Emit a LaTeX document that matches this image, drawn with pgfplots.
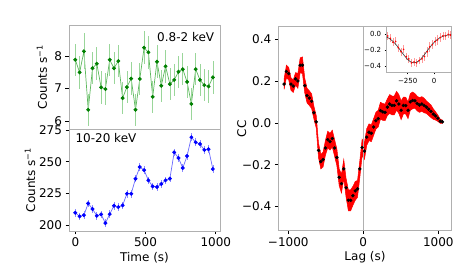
\documentclass[border=0pt]{standalone}
\usepackage{pgfplots}
\pgfplotsset{compat=1.18}
\usepackage{pgfplotstable}
\usepgfplotslibrary{fillbetween}
\usepackage{fontspec}
\setmainfont{DejaVu Sans}

\definecolor{gdot}{HTML}{008000}
\definecolor{gline}{HTML}{5DB85D}
\definecolor{gerr}{HTML}{9AD69A}
\definecolor{bdot}{HTML}{0000FF}
\definecolor{bline}{HTML}{6A6AFF}
\definecolor{berr}{HTML}{8C8CFF}
\definecolor{framegray}{HTML}{B0B0B0}
\definecolor{pinkerr}{HTML}{FF9A9A}

\pgfplotstableread{
t v e
0 7.88 0.50
30.6 7.49 0.50
61.2 8.14 0.55
91.8 6.34 0.50
122.4 7.62 0.50
153 7.76 0.50
183.6 7.03 0.50
214.2 6.98 0.50
244.8 7.88 0.50
275.4 7.62 0.50
306 7.84 0.50
336.6 6.70 0.50
367.2 7.04 0.50
397.8 7.30 0.50
428.4 6.34 0.50
459 7.29 0.50
489.6 8.25 0.50
520.2 8.11 0.50
550.8 6.74 0.50
581.4 7.82 0.50
612 7.08 0.50
642.6 7.68 0.50
673.2 7.13 0.50
703.8 7.26 0.50
734.4 7.51 0.50
765 7.59 0.50
795.6 7.20 0.50
826.2 6.52 0.50
856.8 7.59 0.50
887.4 7.26 0.50
918 7.10 0.50
948.6 7.06 0.50
979.2 7.34 0.50
}\soft

\pgfplotstableread{
t v e
0 209.7 3
30.6 206.8 3
61.2 207.8 3
91.8 217.1 3
122.4 212.6 3
153 207.3 3
183.6 208.4 3
214.2 201.5 3
244.8 208.6 3
275.4 215.2 3
306 214.2 3
336.6 215.5 3
367.2 224.7 3
397.8 224.7 3
428.4 236.6 3
459 245.8 3
489.6 243.3 3
520.2 235.3 3
550.8 230.5 3
581.4 230.0 3
612 232.4 3
642.6 235.3 3
673.2 236.6 3
703.8 257.4 3
734.4 252.9 3
765 245.0 3
795.6 254.5 3
826.2 269.3 3
856.8 265.3 3
887.4 264.0 3
918 259.3 3
948.6 259.8 3
979.2 244.2 3
}\hard

\pgfplotstableread{
l c e
-1055.7 0.185 0.025
-1025.1 0.245 0.030
-994.5 0.235 0.030
-963.9 0.185 0.030
-933.3 0.175 0.030
-902.7 0.210 0.030
-872.1 0.200 0.035
-841.5 0.275 0.035
-810.9 0.275 0.040
-780.3 0.178 0.035
-749.7 0.130 0.035
-719.1 0.118 0.035
-688.5 0.103 0.035
-657.9 0.048 0.030
-627.3 0.005 0.030
-596.7 -0.132 0.035
-566.1 -0.185 0.035
-535.5 -0.175 0.035
-504.9 -0.120 0.035
-474.3 -0.080 0.040
-443.7 -0.090 0.040
-413.1 -0.075 0.040
-382.5 -0.120 0.040
-351.9 -0.165 0.040
-321.3 -0.260 0.040
-290.7 -0.290 0.045
-260.1 -0.220 0.045
-229.5 -0.310 0.045
-198.9 -0.370 0.050
-168.3 -0.370 0.050
-137.7 -0.348 0.045
-107.1 -0.325 0.045
-76.5 -0.315 0.040
-45.9 -0.220 0.040
-15.3 -0.118 0.040
15.3 -0.135 0.040
45.9 -0.068 0.040
76.5 -0.045 0.040
107.1 -0.050 0.040
137.7 -0.020 0.040
168.3 0.010 0.040
198.9 0.020 0.040
229.5 0.058 0.040
260.1 0.052 0.040
290.7 0.050 0.040
321.3 0.075 0.040
351.9 0.090 0.045
382.5 0.083 0.045
413.1 0.083 0.045
443.7 0.105 0.045
474.3 0.090 0.045
504.9 0.060 0.045
535.5 0.083 0.040
566.1 0.082 0.040
596.7 0.060 0.040
627.3 0.100 0.040
657.9 0.107 0.040
688.5 0.105 0.035
719.1 0.092 0.035
749.7 0.085 0.035
780.3 0.090 0.035
810.9 0.083 0.035
841.5 0.075 0.030
872.1 0.065 0.030
902.7 0.055 0.030
933.3 0.042 0.025
963.9 0.033 0.020
994.5 0.022 0.015
1025.1 0.008 0.010
1055.7 0.005 0.008
}\ccf

\pgfplotstableread{
l c e
-440 -0.02 0.05
-415 -0.05 0.05
-390 -0.10 0.05
-365 -0.09 0.05
-340 -0.17 0.05
-315 -0.22 0.05
-290 -0.19 0.05
-265 -0.28 0.05
-240 -0.31 0.05
-215 -0.36 0.05
-190 -0.35 0.05
-165 -0.36 0.05
-140 -0.33 0.05
-115 -0.31 0.05
-90 -0.28 0.06
-65 -0.22 0.06
-40 -0.16 0.06
-15 -0.13 0.06
10 -0.09 0.06
35 -0.07 0.06
60 -0.04 0.06
85 -0.02 0.05
110 -0.02 0.05
135 0.00 0.05
155 -0.01 0.05
}\insetdata

\pgfplotstableread{
l c
-450 -0.034
-425 -0.053
-400 -0.078
-375 -0.110
-350 -0.148
-325 -0.191
-300 -0.237
-275 -0.280
-250 -0.318
-225 -0.345
-200 -0.359
-175 -0.357
-150 -0.341
-125 -0.311
-100 -0.272
-75 -0.227
-50 -0.182
-25 -0.140
0 -0.103
25 -0.072
50 -0.049
75 -0.031
100 -0.019
125 -0.011
150 -0.006
162 -0.005
}\fitcurve

\pgfplotsset{
  myax/.style={
    scale only axis,
    anchor=south west,
    axis line style={framegray, line width=0.8pt},
    tick style={black, line width=0.6pt},
    tick align=outside,
    major tick length=3.5pt,
    xtick pos=bottom, ytick pos=left,
    tick label style={font=\fontsize{12}{14}\selectfont},
    label style={font=\fontsize{12}{14}\selectfont},
    /pgf/number format/assume math mode=true,
    /pgf/number format/1000 sep={},
  },
}

\begin{document}
\begin{tikzpicture}

% top-left panel
\begin{axis}[myax, at={(69pt,143pt)}, width=151pt, height=104pt,
  xmin=-45, xmax=1030, ymin=5.75, ymax=8.95,
  xtick=\empty, ytick={6,7,8},
  ylabel={Counts s\textsuperscript{−1}},
  ylabel style={at={(axis description cs:-0.179,0.5)}, anchor=center},
]
\addplot[gline, line width=0.7pt, mark=*, mark size=1.6pt,
  mark options={gdot, fill=gdot, draw=gdot},
  error bars/.cd, y dir=both, y explicit, error mark=none,
  error bar style={gerr, line width=0.7pt}]
  table[x=t, y=v, y error=e] \soft;
\node[anchor=east, font=\fontsize{12}{14}\selectfont] at (axis description cs:0.985,0.885) {0.8-2 keV};
\end{axis}

% bottom-left panel
\begin{axis}[myax, at={(69pt,41pt)}, width=151pt, height=102pt,
  xmin=-45, xmax=1030, ymin=195.3, ymax=275.8,
  xtick={0,500,1000}, ytick={200,225,250,275},
  xlabel={Time (s)}, ylabel={Counts s\textsuperscript{−1}},
  xlabel style={at={(axis description cs:0.5,-0.265)}, anchor=center},
  ylabel style={at={(axis description cs:-0.258,0.5)}, anchor=center},
]
\addplot[bline, line width=0.7pt, mark=*, mark size=1.6pt,
  mark options={bdot, fill=bdot, draw=bdot},
  error bars/.cd, y dir=both, y explicit, error mark=none,
  error bar style={berr, line width=0.7pt}]
  table[x=t, y=v, y error=e] \hard;
\node[anchor=west, font=\fontsize{12}{14}\selectfont] at (axis description cs:0.02,0.91) {10-20 keV};
\end{axis}

% right panel
\begin{axis}[myax, at={(278.3pt,41.3pt)}, width=173.4pt, height=204pt,
  xmin=-1133, xmax=1179, ymin=-0.515, ymax=0.459,
  xtick={-1000,0,1000}, xticklabels={−1000,0,1000},
  ytick={-0.4,-0.2,0,0.2,0.4}, yticklabels={−0.4,−0.2,0.0,0.2,0.4},
  xlabel={Lag (s)}, ylabel={CC},
  xlabel style={at={(axis description cs:0.5,-0.132)}, anchor=center},
  ylabel style={at={(axis description cs:-0.211,0.5)}, anchor=center},
]
\addplot[framegray, line width=0.8pt] coordinates {(0,-0.515) (0,0.459)};
\addplot[name path=U, draw=none] table[x=l, y expr=\thisrow{c}+\thisrow{e}] \ccf;
\addplot[name path=L, draw=none] table[x=l, y expr=\thisrow{c}-\thisrow{e}] \ccf;
\addplot[fill=red, draw=red, line width=0.5pt] fill between[of=U and L];
\addplot[only marks, mark=*, mark size=1.5pt, black] table[x=l, y=c] \ccf;
\end{axis}

% inset
\begin{axis}[myax, at={(386.7pt,199.7pt)}, width=64.3pt, height=45.6pt,
  axis background/.style={fill=white},
  xmin=-450, xmax=162, ymin=-0.479, ymax=0.096,
  xtick={-250,0}, xticklabels={−250,0},
  ytick={-0.4,-0.2,0}, yticklabels={−0.4,−0.2,0.0},
  tick label style={font=\fontsize{7}{8}\selectfont},
  major tick length=2pt,
]
\addplot[only marks, mark=*, mark size=0.6pt, red,
  error bars/.cd, y dir=both, y explicit, error mark=none,
  error bar style={pinkerr, line width=0.6pt}]
  table[x=l, y=c, y error=e] \insetdata;
\addplot[black!80, line width=0.6pt] table[x=l, y=c] \fitcurve;
\end{axis}

\path (0,0) rectangle (463pt,272pt);
\end{tikzpicture}
\end{document}
